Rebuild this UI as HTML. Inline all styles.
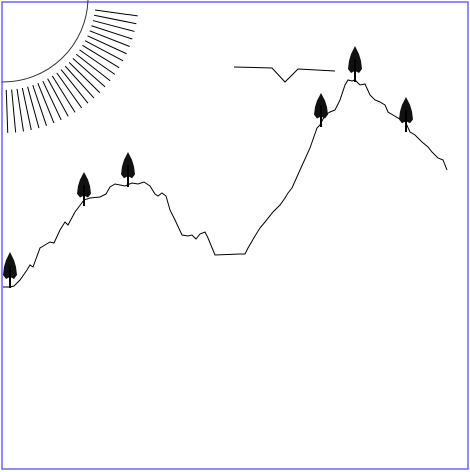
<!DOCTYPE html>
<html><head><meta charset="utf-8"><style>html,body{margin:0;padding:0;background:#fff}svg{display:block}</style></head>
<body>
<svg id="s" width="470" height="472" viewBox="0 0 470 472">
<rect x="2" y="2" width="466" height="467" fill="#fff" stroke="#6666ff" stroke-width="1.5"/>
<g id="sun"></g>
<polyline id="ridge" fill="none" stroke="#000" stroke-width="1"/>
<polyline id="bird" fill="none" stroke="#000" stroke-width="1"/>
<g id="trees"></g>
</svg>
<script>
const ridge=[[3,287],[10,287],[14,286],[20,280],[27,270],[30,265],[33,267],[40,248],[45,245],[50,242],[54,243],[60,230],[65,222],[68,225],[75,212],[81,204],[84,200],[90,198],[100,197],[106,194],[110,187],[115,184],[125,186],[132,183],[138,184],[144,182],[150,186],[155,194],[158,196],[162,193],[166,196],[170,210],[175,220],[182,235],[188,236],[192,235],[196,239],[200,234],[205,232],[208,238],[215,255],[240,254],[245,254],[248,248],[255,236],[260,228],[265,222],[273,212],[280,205],[285,198],[288,193],[292,188],[300,170],[310,148],[317,128],[320,125],[325,115],[330,112],[335,110],[340,100],[345,85],[348,80],[352,81],[355,80],[357,82],[360,85],[365,84],[370,95],[375,100],[380,102],[385,105],[388,112],[393,115],[398,118],[405,121],[410,132],[415,135],[422,142],[428,147],[432,152],[438,158],[443,160],[447,170]];
const bird=[[234,67],[272,68],[285,82],[298,69],[335,71]];
const trees=[[10,252,288],[84,172,206],[128,152,187],[321,93,127],[355,46,82],[406,97,132]];
const NS='http://www.w3.org/2000/svg';
document.getElementById('ridge').setAttribute('points',ridge.map(p=>p.join(',')).join(' '));
document.getElementById('bird').setAttribute('points',bird.map(p=>p.join(',')).join(' '));
const sun=document.getElementById('sun');
const cx=3,cy=-3,r=85;
const arc=document.createElementNS(NS,'path');
arc.setAttribute('d',`M${cx+r},0 A${r},${r} 0 0 1 2,${cy+r}`);
arc.setAttribute('fill','none');arc.setAttribute('stroke','#333');arc.setAttribute('stroke-width','1');


sun.appendChild(arc);
const n=25;
for(let i=0;i<n;i++){
  const a=(8+i*(80/(n-1)))*Math.PI/180;
  const l=document.createElementNS(NS,'line');
  l.setAttribute('x1',cx+93*Math.cos(a));l.setAttribute('y1',cy+93*Math.sin(a));
  l.setAttribute('x2',cx+136*Math.cos(a));l.setAttribute('y2',cy+136*Math.sin(a));
  l.setAttribute('stroke','#000');l.setAttribute('stroke-width','1');
  
  
  sun.appendChild(l);
}
const tg=document.getElementById('trees');
trees.forEach(t=>{
  const [x,top,base]=t;
  const g=document.createElementNS(NS,'g');
  
  
  const h=(base-top)*0.75;
  const p=document.createElementNS(NS,'path');
  p.setAttribute('d',`M${x},${top} L${x+4},${top+h*0.3} L${x+6},${top+h*0.55} L${x+7},${top+h*0.85} L${x+4},${top+h} L${x},${top+h*0.92} L${x-4},${top+h} L${x-7},${top+h*0.85} L${x-6},${top+h*0.55} L${x-4},${top+h*0.3} Z`);
  p.setAttribute('fill','#111');
  g.appendChild(p);
  const tr=document.createElementNS(NS,'line');
  tr.setAttribute('x1',x);tr.setAttribute('x2',x);tr.setAttribute('y1',top+h*0.5);tr.setAttribute('y2',base);
  tr.setAttribute('stroke','#000');tr.setAttribute('stroke-width','2');
  g.appendChild(tr);
  tg.appendChild(g);
});
</script>
</body></html>
